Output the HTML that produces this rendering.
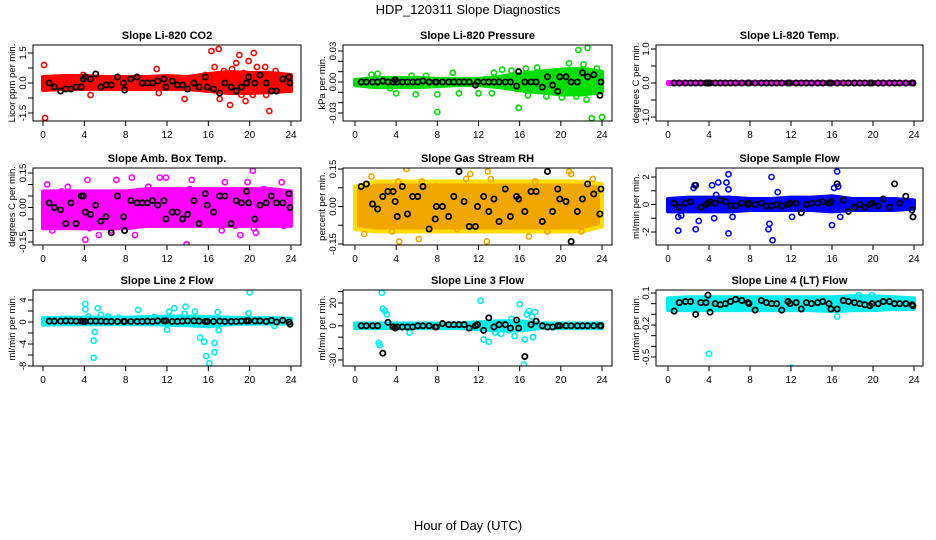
<!DOCTYPE html>
<html><head><meta charset="utf-8"><style>
body{margin:0;background:#fff;}
svg{display:block;font-family:"Liberation Sans",sans-serif;}
</style></head><body>
<svg id="chart" width="936" height="540" viewBox="0 0 936 540">
<text x="468" y="14" text-anchor="middle" font-size="13">HDP_120311  Slope Diagnostics</text>
<text x="468" y="530" text-anchor="middle" font-size="13">Hour of Day (UTC)</text>
</svg>
<script>
const bandHours=[0,2,4,6,8,10,12,14,16,18,20,22,24];
const blackHours=[0.6,1.1,1.7,2.2,2.7,3.2,3.7,3.9,4.1,4.6,5.1,5.6,6.1,6.6,7.2,7.8,7.9,8.5,9.1,9.6,10.1,10.6,11.1,11.7,11.9,12.5,13.0,13.5,14.0,14.6,15.1,15.7,15.9,16.5,17.1,17.6,18.2,18.7,19.2,19.7,19.9,20.5,21.0,21.6,22.1,22.6,23.2,23.8,23.9];
const xTicks=[0,4,8,12,16,20,24];

const p1BandLo=[-0.35,-0.3,-0.3,-0.3,-0.3,-0.3,-0.3,-0.3,-0.4,-0.5,-0.5,-0.45,-0.4];
const p1BandHi=[0.3,0.35,0.35,0.3,0.3,0.3,0.35,0.3,0.45,0.55,0.5,0.5,0.4];
const p1OutX=[0.1,0.2,3.9,4.6,11,11.2,13.7,15.7,16.3,16.6,17,17.1,17.5,18.1,18.7,19,19.2,19.4,19.6,20.3,20.4,20.7,21.5,21.6,21.9,22.5,18.3,19.9];
const p1OutY=[0.9,-1.75,0.4,-0.6,0.7,-0.5,-0.8,0.4,1.6,0.8,1.7,-0.8,0.6,-1.1,1.0,1.4,-0.6,0.5,-0.9,-0.6,1.5,0.8,0.8,-0.6,-1.4,0.6,0.7,1.1];
const p1BlackY=[0,-0.2,-0.4,-0.3,-0.3,-0.2,-0.2,0.2,0.3,0.2,0.45,-0.2,-0.1,-0.1,0.3,0.0,-0.35,0.2,0.3,0,0,0,0.1,0.2,-0.2,0.1,-0.1,-0.1,-0.3,0,-0.2,0.3,-0.2,-0.3,-0.5,0,-0.2,-0.4,-0.2,0,0.3,0,0.4,0,-0.4,-0.4,0.2,0.3,0];

const p2BandLo=[-0.003,-0.005,-0.005,-0.005,-0.004,-0.003,-0.003,-0.005,-0.008,-0.01,-0.012,-0.012,-0.01];
const p2BandHi=[0.002,0.004,0.004,0.004,0.003,0.003,0.003,0.005,0.008,0.01,0.012,0.013,0.01];
const p2OutX=[1.6,2.2,3.4,4.0,5.5,5.9,6.9,8.0,8.0,9.5,10.1,12.0,13.3,13.5,14.3,15.2,15.9,16.6,16.8,17.7,18.6,19.9,20.1,20.8,21.7,22.2,22.5,22.6,23.0,23.5,24.0,21.5];
const p2OutY=[0.007,0.008,-0.006,-0.011,0.006,-0.012,0.006,-0.012,-0.029,0.009,-0.011,-0.011,-0.011,0.009,0.012,0.011,-0.025,0.013,-0.013,0.014,-0.014,0.008,-0.015,0.018,0.031,0.017,-0.017,0.033,-0.035,0.013,-0.034,-0.014];
const p2BlackY=[0,0,0,0,0.001,0,0,0.002,0,0,0,0,0,0.001,0,0,0,0,0,0,0,0,0,-0.003,0,0,0,0,0,0,0,-0.004,0.01,0,0,0,-0.005,0.005,-0.003,-0.009,0.005,0.005,0,0,0.009,0.005,0.007,-0.013,0];

const p3BandLo=[-0.03,-0.03,-0.03,-0.03,-0.03,-0.03,-0.03,-0.03,-0.03,-0.03,-0.03,-0.03,-0.03];
const p3BandHi=[0.03,0.03,0.03,0.03,0.03,0.03,0.03,0.03,0.03,0.03,0.03,0.03,0.03];
const p3OutX=[];
const p3OutY=[];
const p3BlackY=[0,0,0,0,0,0,0,0,0,0,0,0,0,0,0,0,0,0,0,0,0,0,0,0,0,0,0,0,0,0,0,0,0,0,0,0,0,0,0,0,0,0,0,0,0,0,0,0,0];

const p4BandLo=[-0.09,-0.09,-0.09,-0.09,-0.09,-0.08,-0.08,-0.08,-0.08,-0.08,-0.08,-0.08,-0.08];
const p4BandHi=[0.07,0.07,0.07,0.07,0.07,0.08,0.08,0.08,0.08,0.08,0.08,0.08,0.07];
const p4OutX=[0.4,0.9,1.8,2.4,4.3,4.5,5.4,7.1,8.6,8.9,10.2,11.3,11.9,13.9,14.4,14.2,17.3,17.6,18.6,19.1,19.8,20.3,20.4,20.6,21.4,22.4,23.1,23.3,4.1,6.6];
const p4OutY=[0.1,-0.1,0.07,0.09,0.12,-0.09,-0.12,0.12,0.13,-0.12,0.09,0.13,0.13,-0.16,0.12,0.08,-0.1,0.11,-0.08,-0.12,0.11,0.16,-0.09,-0.11,0.08,-0.07,0.11,-0.08,-0.14,-0.1];
const p4BlackY=[0.02,0,-0.01,-0.07,0.02,-0.07,0.05,0.05,-0.02,-0.03,0.01,-0.06,-0.04,-0.11,0.05,-0.04,-0.1,0.03,0.02,0.02,0.02,0.03,0.01,0.03,-0.05,-0.02,-0.02,-0.05,-0.03,0.03,-0.07,0.06,0.01,-0.02,0.05,0.05,-0.07,0.03,0.02,0.07,0.02,-0.05,0.01,0.02,0.05,0.02,0.02,0.06,0];

const p5BandLo=[-0.09,-0.1,-0.1,-0.1,-0.1,-0.1,-0.1,-0.1,-0.1,-0.1,-0.1,-0.1,-0.08];
const p5BandHi=[0.08,0.1,0.1,0.1,0.1,0.1,0.1,0.1,0.1,0.1,0.1,0.1,0.09];
const p5OutX=[0.9,1.6,3.6,4.2,4.3,5.0,6.2,6.5,7.8,9.9,10.8,11.2,12.8,12.9,13.2,16.9,17.5,18.7,20.8,21.0,22.0,23.1];
const p5OutY=[-0.11,0.12,-0.1,0.1,-0.14,0.15,-0.13,0.1,0.08,-0.09,0.11,0.13,-0.14,0.14,0.11,-0.12,0.1,-0.1,0.14,0.13,-0.1,0.11];
const p5BlackY=[0.08,0.09,0.01,-0.01,0.04,0.06,0.06,0.02,-0.04,0.08,-0.03,0.04,0.04,0.08,-0.09,-0.05,0,0,-0.04,0.04,0.14,0.02,-0.08,-0.08,0,0.04,-0.02,0.03,-0.06,0.07,-0.04,0.04,0.03,-0.02,0.06,0.06,-0.06,0.14,-0.02,0.07,0.03,0.02,-0.14,-0.02,0.03,0.09,0.05,-0.03,0.07];

const p6BandLo=[-0.5,-0.5,-0.5,-0.5,-0.4,-0.4,-0.4,-0.4,-0.5,-0.4,-0.4,-0.4,-0.3];
const p6BandHi=[0.4,0.5,0.5,0.5,0.4,0.4,0.5,0.5,0.6,0.4,0.4,0.4,0.3];
const p6OutX=[1.0,1.0,1.3,2.5,2.6,2.7,3.0,4.3,4.7,4.9,5.7,5.9,5.9,5.9,6.3,4.5,9.8,9.9,10.1,10.2,10.7,12.1,16.0,16.5,16.6,16.8,16.2];
const p6OutY=[-0.9,-1.9,-0.8,1.2,1.4,-1.8,-1.2,1.4,0.7,1.6,1.6,2.2,1.1,-2.1,-0.9,-1.0,-1.8,-1.4,2.0,-2.6,0.9,-0.9,-1.5,2.4,1.3,-0.9,1.2];
const p6BlackY=[0.1,-0.2,0.1,0.2,1.4,-0.2,0,0.1,0.2,0.1,0.3,0.2,-0.1,-0.1,0.1,0,0.1,0,0.1,-0.1,-0.1,0,-0.1,0,0.1,0.1,-0.6,0,0.1,0.1,0.2,0.1,0.2,1.5,0.3,-0.5,-0.2,0,-0.2,0,0.1,-0.1,0.4,-0.2,1.5,0.1,0.6,-0.4,-0.9];

const p7BandLo=[-0.5,-0.4,-0.4,-0.4,-0.4,-0.4,-0.5,-0.6,-0.8,-0.4,-0.3,-0.3,-0.3];
const p7BandHi=[0.7,0.8,0.8,0.8,0.8,0.9,1.0,1.0,0.9,0.8,0.7,0.7,0.6];
const p7OutX=[4.1,4.1,4.4,4.9,5.0,4.9,5.3,5.6,6.3,7.3,9.2,10.8,12.0,12.2,12.7,13.8,13.7,14.7,15.2,15.6,15.8,16.1,16.6,16.6,16.9,17.0,20.0,19.9,22.4];
const p7OutY=[3.3,2.3,1.0,-3.4,-1.8,-6.5,2.5,1.3,1.0,0.8,2.2,0.9,-1.4,1.9,2.5,2.8,1.5,1.9,-2.8,-3.6,-6.2,-7.5,-3.8,-5.5,1.8,-1.5,5.4,1.6,-0.7];
const p7BlackY=[0.15,0.15,0.15,0.2,0.2,0.15,0.15,0.1,0.1,0.15,0.15,0.15,0.1,0.1,0.1,0.1,0.1,0.1,0.1,0.1,0.15,0.1,0.2,0.2,0.2,0.1,0.1,0.15,0.2,0.2,0.15,0.1,0.1,0.1,0.15,0.1,0.1,0.1,0.15,0.2,0.2,0.2,0.2,0.1,0.3,0,0.3,0,-0.4];

const p8BandLo=[-2,-2,-2,-2,-2,-2,-3,-4,-4,-2,-2,-2,-2];
const p8BandHi=[2,2,2,2,2,2,3,4,4,2,2,2,2];
const p8OutX=[2.3,2.4,2.6,2.7,2.9,3.1,5.3,12.2,12.5,13.0,13.6,14.2,14.9,15.5,15.2,16.0,16.5,16.4,16.7,16.9,17.3,17.2,17.5];
const p8OutY=[-15,-17,29,15,13,10,-6,22,-12,-14,-6,-7,-4,-9,6,19,-12,-34,10,13,-10,8,12];
const p8BlackY=[0,0,0,0,-24,3,-1,-2,-1,-1,-1,-1,0,0,0,-1,-1,2,1,1,1,1,-2,0,1,-4,7,-1,1,1,-2,5,-2,-27,1,4,0,-1,-1,0,0,0,0,0,0,0,0,0,0];

const p9BandLo=[-0.06,-0.06,-0.06,-0.06,-0.06,-0.06,-0.06,-0.06,-0.07,-0.06,-0.06,-0.05,-0.05];
const p9BandHi=[0.05,0.06,0.06,0.06,0.06,0.06,0.06,0.06,0.06,0.07,0.07,0.06,0.05];
const p9OutX=[4.0,12.0,19.9,16.5,18.6,19.9];
const p9OutY=[-0.47,-0.6,-0.63,-0.12,0.08,0.08];
const p9BlackY=[-0.07,0.01,0.02,0.02,-0.1,0.01,0.01,0.08,-0.08,0,-0.01,0,0.02,0.04,0.03,0.01,0,-0.06,0.03,0.01,0,0,-0.06,0.02,0,0.01,-0.05,0.01,0,0.01,0.02,0,-0.05,-0.05,0.03,0.02,0.01,0,-0.01,-0.02,0,0,0.02,0.02,0,0,0,-0.01,-0.02];

const NS='http://www.w3.org/2000/svg';
const svg=document.getElementById('chart');
function mk(tag,attrs,parent){const e=document.createElementNS(NS,tag);for(const k in attrs)e.setAttribute(k,attrs[k]);(parent||svg).appendChild(e);return e;}

const cols=[{l:33,r:301,x0:43,x24:291,yl:15},{l:343,r:612,x0:355,x24:602,yl:325},{l:656,r:923,x0:668,x24:914,yl:639}];
const rows=[{t:45,b:121},{t:168,b:245},{t:290,b:366}];

const panels=[
 {name:'co2',title:'Slope Li-820 CO2',ylab:'Licor ppm per min.',col:'#ff0000',c:0,r:0,v1:1.5,p1:53,v2:-1.5,p2:113,ticks:[-1.5,-0.75,0,0.75,1.5],labs:[[1.5,'1.5'],[0,'0.0'],[-1.5,'-1.5']],lo:p1BandLo,hi:p1BandHi,ox:p1OutX,oy:p1OutY,by:p1BlackY},
 {name:'pressure',title:'Slope Li-820 Pressure',ylab:'kPa per min.',col:'#00dd00',c:1,r:0,v1:0.03,p1:51,v2:-0.03,p2:113,ticks:[-0.03,-0.02,-0.01,0,0.01,0.02,0.03],labs:[[0.03,'0.03'],[0,'0.00'],[-0.03,'-0.03']],lo:p2BandLo,hi:p2BandHi,ox:p2OutX,oy:p2OutY,by:p2BlackY},
 {name:'temp',title:'Slope Li-820 Temp.',ylab:'degrees C per min.',col:'#ff00ff',c:2,r:0,v1:1,p1:49,v2:-1,p2:117,ticks:[-1,-0.5,0,0.5,1],labs:[[1,'1.0'],[0,'0.0'],[-1,'-1.0']],lo:p3BandLo,hi:p3BandHi,ox:p3OutX,oy:p3OutY,by:p3BlackY},
 {name:'amb-box-temp',title:'Slope Amb. Box Temp.',ylab:'degrees C per min.',col:'#ff00ff',c:0,r:1,v1:0.15,p1:173,v2:-0.15,p2:242,ticks:[-0.15,-0.1,-0.05,0,0.05,0.1,0.15],labs:[[0.15,'0.15'],[0,'0.00'],[-0.15,'-0.15']],lo:p4BandLo,hi:p4BandHi,ox:p4OutX,oy:p4OutY,by:p4BlackY},
 {name:'gas-stream-rh',title:'Slope Gas Stream RH',ylab:'percent per min.',col:'#f2a600',oc:'#ffdd00',c:1,r:1,v1:0.15,p1:169,v2:-0.15,p2:244,ticks:[-0.15,-0.075,0,0.075,0.15],labs:[[0.15,'0.15'],[0,'0.00'],[-0.15,'-0.15']],lo:p5BandLo,hi:p5BandHi,ox:p5OutX,oy:p5OutY,by:p5BlackY},
 {name:'sample-flow',title:'Slope Sample Flow',ylab:'ml/min per min.',col:'#0000ff',c:2,r:1,v1:2,p1:177,v2:-2,p2:232,ticks:[-2,-1,0,1,2],labs:[[2,'2'],[0,'0'],[-2,'-2']],lo:p6BandLo,hi:p6BandHi,ox:p6OutX,oy:p6OutY,by:p6BlackY},
 {name:'line2-flow',title:'Slope Line 2 Flow',ylab:'ml/min per min.',col:'#00eeee',c:0,r:2,v1:4,p1:300,v2:-8,p2:366,ticks:[-8,-6,-4,-2,0,2,4],labs:[[4,'4'],[0,'0'],[-4,'-4'],[-8,'-8']],lo:p7BandLo,hi:p7BandHi,ox:p7OutX,oy:p7OutY,by:p7BlackY},
 {name:'line3-flow',title:'Slope Line 3 Flow',ylab:'ml/min per min.',col:'#00eeee',c:1,r:2,v1:20,p1:303,v2:-30,p2:360,ticks:[-30,-20,-10,0,10,20,30],labs:[[20,'20'],[0,'0'],[-30,'-30']],lo:p8BandLo,hi:p8BandHi,ox:p8OutX,oy:p8OutY,by:p8BlackY},
 {name:'line4-flow',title:'Slope Line 4 (LT) Flow',ylab:'ml/min per min.',col:'#00eeee',c:2,r:2,v1:0.1,p1:293,v2:-0.5,p2:357,ticks:[-0.6,-0.5,-0.4,-0.3,-0.2,-0.1,0,0.1],labs:[[0.1,'0.1'],[-0.2,'-0.2'],[-0.5,'-0.5']],lo:p9BandLo,hi:p9BandHi,ox:p9OutX,oy:p9OutY,by:p9BlackY}
];

panels.forEach(p=>{
 const C=cols[p.c],R=rows[p.r];
 const xs=h=>C.x0+(C.x24-C.x0)*h/24;
 const ys=v=>p.p1+(p.p2-p.p1)*(v-p.v1)/(p.v2-p.v1);
 const g=mk('g',{});
 
 
 const clipId='clip-'+p.name;
 const cp=mk('clipPath',{id:clipId},g);
 mk('rect',{x:C.l,y:R.t,width:C.r-C.l,height:R.b-R.t},cp);
 const t=mk('text',{x:(C.l+C.r)/2,y:R.t-6,'text-anchor':'middle','font-size':11,'font-weight':'bold'},g);
 t.textContent=p.title;
 
 
 const yl=mk('text',{x:0,y:0,'text-anchor':'middle','font-size':9.5,transform:`translate(${C.yl},${(R.t+R.b)/2}) rotate(-90)`},g);
 yl.textContent=p.ylab;
 
 
 const data=mk('g',{'clip-path':`url(#${clipId})`},g);
 let pts=bandHours.map((h,i)=>xs(h)+','+ys(p.hi[i]));
 pts=pts.concat(bandHours.slice().reverse().map((h,j)=>{const i=bandHours.length-1-j;return xs(h)+','+ys(p.lo[i]);}));
 const band=mk('polygon',{points:pts.join(' '),fill:p.col,stroke:p.oc||p.col,'stroke-width':4,'stroke-linejoin':'round'},data);
 
 
 p.ox.forEach((x,i)=>{
  const c=mk('circle',{cx:xs(x),cy:ys(p.oy[i]),r:2.6,fill:'none',stroke:p.col,'stroke-width':1.6},data);
  
  
 });
 blackHours.forEach((h,i)=>{
  if(p.by[i]===undefined)return;
  const c=mk('circle',{cx:xs(h),cy:ys(p.by[i]),r:2.6,fill:'none',stroke:'#000','stroke-width':1.8},data);
  
  
 });
 const box=mk('rect',{x:C.l,y:R.t,width:C.r-C.l,height:R.b-R.t,fill:'none',stroke:'#000','stroke-width':1},g);
 
 
 xTicks.forEach(h=>{
  mk('line',{x1:xs(h),x2:xs(h),y1:R.b,y2:R.b+5,stroke:'#000'},g);
  const tl=mk('text',{x:xs(h),y:R.b+17,'text-anchor':'middle','font-size':10},g);
  tl.textContent=h;
  
  
 });
 p.ticks.forEach(v=>{const y=ys(v);if(y<R.t-1||y>R.b+1)return;mk('line',{x1:C.l-5,x2:C.l,y1:y,y2:y,stroke:'#000'},g);});
 p.labs.forEach(([v,s])=>{
  const y=ys(v);
  const tl=mk('text',{x:0,y:0,'text-anchor':'middle','font-size':9.5,transform:`translate(${C.l-7},${y}) rotate(-90)`},g);
  tl.textContent=s;
  
  
 });
});
</script>
</body></html>
